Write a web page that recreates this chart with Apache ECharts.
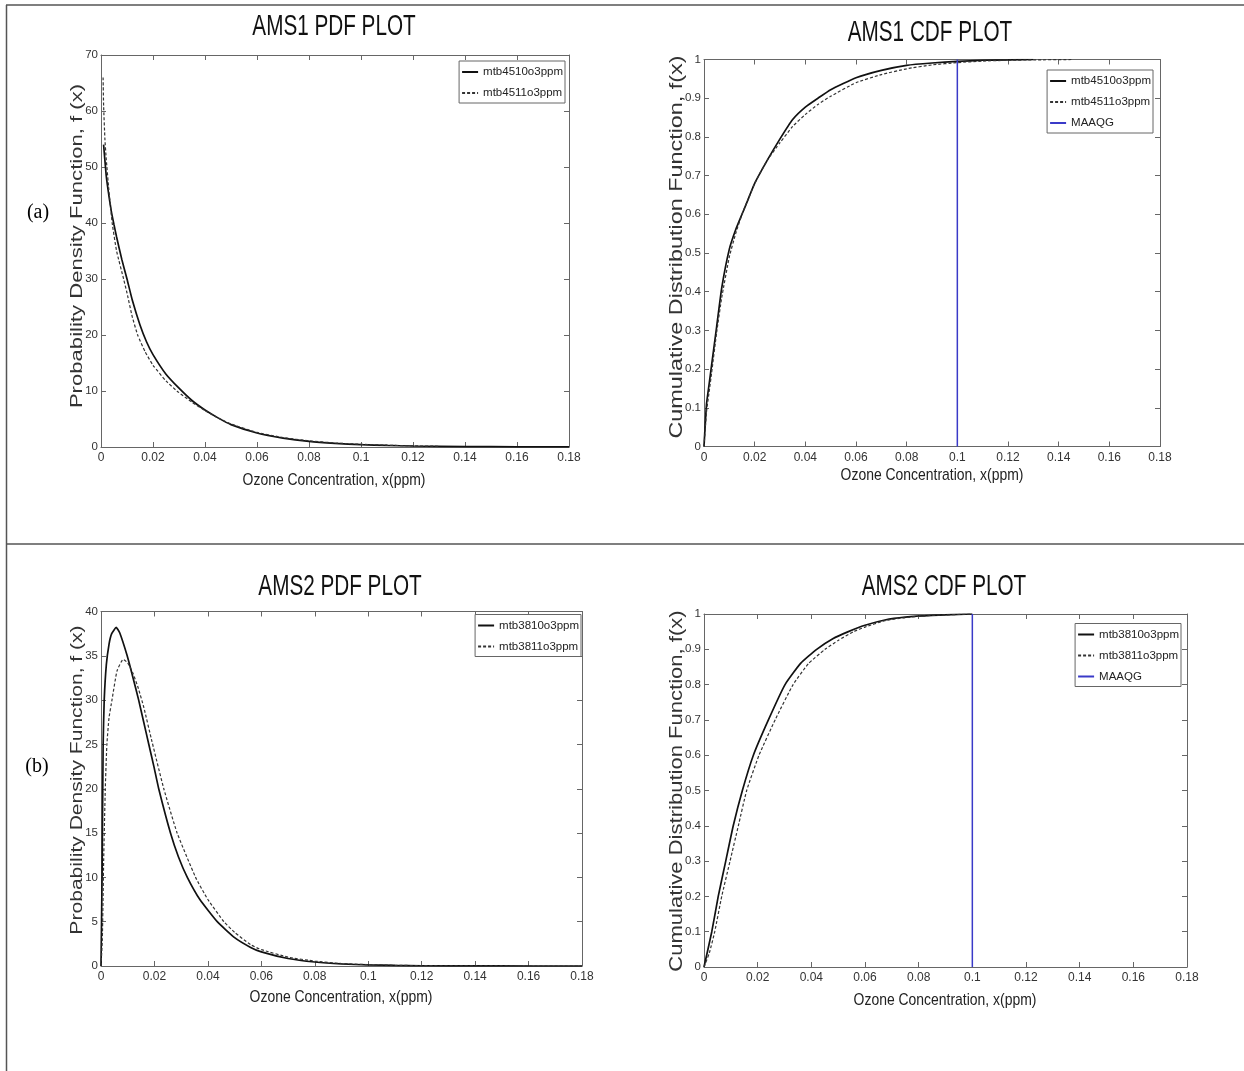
<!DOCTYPE html>
<html><head><meta charset="utf-8">
<script src="https://cdn.jsdelivr.net/npm/echarts@6/dist/echarts.min.js"></script>
<style>html,body{margin:0;padding:0;background:#fff}#c{width:1244px;height:1071px}</style>
</head><body><div id="c"></div>
<script>
// ---------- data ----------
const xTickLabels = ['0','0.02','0.04','0.06','0.08','0.1','0.12','0.14','0.16','0.18'];

// AMS1 PDF
const ams1PdfSolidX = [0.001,0.002,0.003,0.004,0.005,0.006,0.008,0.01,0.012,0.015,0.0175,0.02,0.025,0.03,0.035,0.04,0.045,0.05,0.06,0.07,0.08,0.09,0.1,0.11,0.12,0.14,0.16,0.18];
const ams1PdfSolidY = [54,48.5,45,42,39.7,37.5,33.5,30,26.3,21.8,18.8,16.5,13.0,10.5,8.3,6.6,5.2,4.0,2.5,1.6,1.0,0.65,0.42,0.28,0.18,0.08,0.035,0.015];
const ams1PdfDashX = [0.0008,0.001,0.0015,0.002,0.003,0.0043,0.006,0.0087,0.01,0.012,0.0141,0.017,0.02,0.025,0.0292,0.035,0.04,0.045,0.05,0.06,0.07,0.08,0.09,0.1,0.11,0.12,0.13];
const ams1PdfDashY = [66,61,55,51.5,46,40,35,30,27.5,23.3,20,17,14.6,11.8,10,8,6.5,5.2,4.1,2.6,1.7,1.1,0.72,0.48,0.32,0.2,0.13];

// AMS1 CDF
const ams1CdfSolidX = [0,0.001,0.002,0.003,0.005,0.007,0.01,0.0125,0.015,0.0175,0.02,0.025,0.03,0.035,0.04,0.045,0.05,0.06,0.07,0.08,0.09,0.1,0.11,0.12,0.13];
const ams1CdfSolidY = [0,0.11,0.16,0.21,0.31,0.41,0.51,0.56,0.60,0.64,0.68,0.74,0.795,0.845,0.877,0.9,0.922,0.953,0.972,0.985,0.991,0.995,0.998,0.999,1];
const ams1CdfDashX = [0,0.001,0.002,0.003,0.005,0.007,0.01,0.0125,0.015,0.0175,0.02,0.025,0.03,0.035,0.04,0.045,0.05,0.06,0.07,0.08,0.09,0.1,0.11,0.12,0.13,0.145];
const ams1CdfDashY = [0,0.09,0.14,0.19,0.295,0.385,0.49,0.55,0.60,0.64,0.68,0.74,0.785,0.827,0.858,0.884,0.905,0.94,0.961,0.976,0.986,0.992,0.996,0.998,0.999,1];

// AMS2 PDF
const ams2PdfSolidX = [0,0.0004,0.0008,0.0012,0.002,0.003,0.004,0.0057,0.007,0.0098,0.012,0.0141,0.016,0.0179,0.0198,0.0216,0.026,0.029,0.0323,0.037,0.0435,0.05,0.056,0.06,0.07,0.08,0.09,0.1,0.11,0.12,0.14,0.16,0.18];
const ams2PdfSolidY = [0,10,25,30,34,36.3,37.5,38.2,37.6,35,32.5,30,27.5,25,22.5,20,15,12.3,10,7.5,5,3.2,2.1,1.6,0.85,0.45,0.23,0.12,0.06,0.03,0.008,0.002,0];
const ams2PdfDashX = [0,0.0005,0.001,0.0016,0.0022,0.003,0.0041,0.006,0.0083,0.01,0.012,0.014,0.016,0.0191,0.0235,0.0285,0.0354,0.04,0.046,0.05,0.056,0.06,0.07,0.08,0.09,0.1,0.11,0.12,0.14,0.16,0.18];
const ams2PdfDashY = [0,3,12,20,25,28,30,33.3,34.6,34.2,33,31.3,29.2,25.3,20,15,10,7.5,5,3.8,2.4,1.85,1.0,0.55,0.28,0.15,0.08,0.04,0.01,0.003,0];

// AMS2 CDF
const ams2CdfSolidX = [0,0.0029,0.0053,0.0081,0.0109,0.0143,0.0184,0.024,0.0302,0.036,0.042,0.048,0.0538,0.06,0.0674,0.075,0.085,0.1];
const ams2CdfSolidY = [0,0.1,0.2,0.3,0.4,0.5,0.6,0.7,0.8,0.86,0.9,0.93,0.95,0.968,0.983,0.991,0.996,1];
const ams2CdfDashX = [0,0.002,0.004,0.0066,0.0097,0.0128,0.0159,0.0205,0.0265,0.0332,0.039,0.0451,0.05,0.0557,0.06,0.0674,0.075,0.085,0.1];
const ams2CdfDashY = [0,0.04,0.1,0.2,0.3,0.4,0.5,0.6,0.7,0.8,0.86,0.9,0.925,0.95,0.963,0.981,0.99,0.996,1];

const maaqgX = [0.1,0.1];
const maaqgY = [0,1];

// ---------- styling / layout ----------
const SANS = "'Liberation Sans',Arial,sans-serif";
const SERIF = "'Liberation Serif','Times New Roman',serif";
const AX = '#666';

const pts = (xs, ys) => xs.map((x, i) => [x, ys[i]]);

const grids = [
  {left: 101, top: 55, width: 468, height: 392},
  {left: 704, top: 59.5, width: 456, height: 387},
  {left: 101, top: 611.5, width: 481, height: 354.5},
  {left: 704, top: 614, width: 483, height: 353}
];
const yCfg = [
  {max: 70, interval: 10},
  {max: 1, interval: 0.1},
  {max: 40, interval: 5},
  {max: 1, interval: 0.1}
];

const xAxis = [], yAxis = [];
grids.forEach((g, i) => {
  const line = {show: true, onZero: false, lineStyle: {color: AX, width: 1}};
  const tick = {show: true, inside: true, length: 5, lineStyle: {color: AX, width: 1}};
  xAxis.push({
    type: 'value', gridIndex: i, min: 0, max: 0.18, interval: 0.02, position: 'bottom',
    axisLine: line, axisTick: tick, splitLine: {show: false},
    axisLabel: {margin: 5, fontFamily: SANS, fontSize: 12, color: '#333',
      formatter: v => xTickLabels[Math.round(v / 0.02)] ?? ''}
  });
  xAxis.push({
    type: 'value', gridIndex: i, min: 0, max: 0.18, interval: 0.02, position: 'top',
    axisLine: line, axisTick: tick, splitLine: {show: false}, axisLabel: {show: false}
  });
  yAxis.push({
    type: 'value', gridIndex: i, min: 0, max: yCfg[i].max, interval: yCfg[i].interval, position: 'left',
    axisLine: line, axisTick: tick, splitLine: {show: false},
    axisLabel: {margin: 3, fontFamily: SANS, fontSize: 11.5, color: '#333',
      formatter: v => String(+v.toFixed(2))}
  });
  yAxis.push({
    type: 'value', gridIndex: i, min: 0, max: yCfg[i].max, interval: yCfg[i].interval, position: 'right',
    axisLine: line, axisTick: tick, splitLine: {show: false}, axisLabel: {show: false}
  });
});

const solidStyle = {color: '#111', width: 1.7, type: 'solid'};
const dashStyle = {color: '#333', width: 1.2, type: [3, 2]};
function mk(name, g, data, style) {
  return {
    type: 'line', name, xAxisIndex: 2 * g, yAxisIndex: 2 * g, data,
    showSymbol: false, symbol: 'none', smooth: 0.15,
    lineStyle: style, itemStyle: {color: style.color}, emphasis: {disabled: true}
  };
}
const blue = {color: '#3a3ac8', width: 1.5, type: 'solid'};

const series = [
  mk('mtb4510o3ppm', 0, pts(ams1PdfSolidX, ams1PdfSolidY), solidStyle),
  mk('mtb4511o3ppm', 0, pts(ams1PdfDashX, ams1PdfDashY), dashStyle),
  mk('mtb4510o3ppm', 1, pts(ams1CdfSolidX, ams1CdfSolidY), solidStyle),
  mk('mtb4511o3ppm', 1, pts(ams1CdfDashX, ams1CdfDashY), dashStyle),
  mk('MAAQG', 1, pts(maaqgX, maaqgY), blue),
  mk('mtb3810o3ppm', 2, pts(ams2PdfSolidX, ams2PdfSolidY), solidStyle),
  mk('mtb3811o3ppm', 2, pts(ams2PdfDashX, ams2PdfDashY), dashStyle),
  mk('mtb3810o3ppm', 3, pts(ams2CdfSolidX, ams2CdfSolidY), solidStyle),
  mk('mtb3811o3ppm', 3, pts(ams2CdfDashX, ams2CdfDashY), dashStyle),
  mk('MAAQG', 3, pts(maaqgX, maaqgY), blue)
];

function leg(names, right, top) {
  return {
    show: true, data: names, orient: 'vertical', right, top, itemWidth: 16, itemHeight: 12, itemGap: 9,
    padding: [5, 2, 4, 2], borderColor: '#666', borderWidth: 1, backgroundColor: '#fff',
    selectedMode: false,
    itemStyle: {color: 'rgba(0,0,0,0)', borderColor: 'rgba(0,0,0,0)', borderWidth: 0, opacity: 0},
    textStyle: {fontFamily: SANS, fontSize: 11.5, color: '#222'}
  };
}
const legend = [
  leg(['mtb4510o3ppm', 'mtb4511o3ppm'], 679, 61),
  leg(['mtb4510o3ppm', 'mtb4511o3ppm', 'MAAQG'], 91, 70),
  leg(['mtb3810o3ppm', 'mtb3811o3ppm'], 663, 614.5),
  leg(['mtb3810o3ppm', 'mtb3811o3ppm', 'MAAQG'], 63, 623.5)
];

function txt(text, x, y, font, fill, opts) {
  return Object.assign({type: 'text', x, y, silent: true,
    style: {text, font, fill, textAlign: 'center', textVerticalAlign: 'middle'}}, opts || {});
}
const titles = [
  ['AMS1 PDF PLOT', 334, 27], ['AMS1 CDF PLOT', 930, 33],
  ['AMS2 PDF PLOT', 340, 587], ['AMS2 CDF PLOT', 944, 587]
];
const xNames = [[334, 480], [932, 475], [341, 997], [945, 1000]];
const yNames = [
  ['Probability Density Function, f (x)', 77, 246, 17, 1.3],
  ['Cumulative Distribution Function, f(x)', 677, 247, 19, 1.23],
  ['Probability Density Function, f (x)', 77, 780, 17, 1.24],
  ['Cumulative Distribution Function, f(x)', 677, 791, 19, 1.16]
];
const graphic = [
  {type: 'line', silent: true, shape: {x1: 6, y1: 5, x2: 1244, y2: 5}, style: {stroke: '#555', lineWidth: 1.5}},
  {type: 'line', silent: true, shape: {x1: 6.5, y1: 5, x2: 6.5, y2: 1071}, style: {stroke: '#555', lineWidth: 1.5}},
  {type: 'line', silent: true, shape: {x1: 6, y1: 544, x2: 1244, y2: 544}, style: {stroke: '#555', lineWidth: 1.5}},
  txt('(a)', 38, 213, '20px ' + SERIF, '#000'),
  txt('(b)', 37, 767, '20px ' + SERIF, '#000')
];
titles.forEach(t => graphic.push(txt(t[0], t[1], t[2], '30px ' + SANS, '#111', {scaleX: 0.69})));
xNames.forEach(t => graphic.push(txt('Ozone Concentration, x(ppm)', t[0], t[1], '17px ' + SANS, '#222', {scaleX: 0.82})));
yNames.forEach(t => graphic.push(txt(t[0], t[1], t[2], t[3] + 'px ' + SANS, '#333',
  {rotation: Math.PI / 2, scaleX: t[4]})));

const chart = echarts.init(document.getElementById('c'), null, {renderer: 'canvas'});
chart.setOption({
  animation: false, backgroundColor: '#fff',
  grid: grids.map(g => Object.assign({show: false}, g)),
  xAxis, yAxis, legend, series, graphic
});
</script></body></html>
